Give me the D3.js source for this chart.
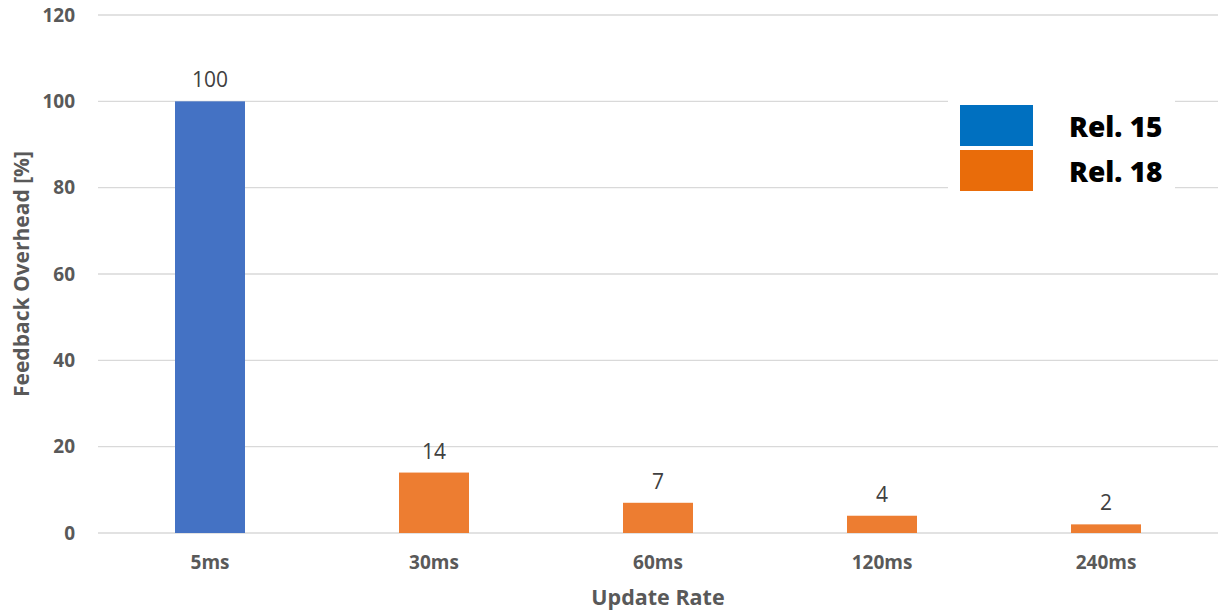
<!DOCTYPE html>
<html>
<head>
<meta charset="utf-8">
<script src="https://cdn.jsdelivr.net/npm/d3@7"></script>
<style>
  html, body { margin: 0; padding: 0; background: #fff; }
  svg { display: block; }
</style>
</head>
<body>
<svg id="chart" width="1225" height="613"></svg>
<script>
// Feedback overhead per update rate
const categories = ["5ms", "30ms", "60ms", "120ms", "240ms"];
const values = [100, 14, 7, 4, 2];
const releases = ["Rel. 15", "Rel. 18", "Rel. 18", "Rel. 18", "Rel. 18"];
const yTicks = [0, 20, 40, 60, 80, 100, 120];
const legendItems = ["Rel. 15", "Rel. 18"];

const barColor = { "Rel. 15": "#4472C4", "Rel. 18": "#ED7D31" };
const swatchColor = { "Rel. 15": "#0070C0", "Rel. 18": "#E96C0A" };

const svg = d3.select("#chart");
const margin = { left: 98, right: 7, top: 15, bottom: 80 };
const W = 1225, H = 613;

const x = d3.scaleBand()
  .domain(categories)
  .range([margin.left, W - margin.right])
  .paddingInner(0.6875)
  .paddingOuter(0.34375);

const y = d3.scaleLinear()
  .domain([0, 120])
  .range([H - margin.bottom, margin.top]);

const font = "'Open Sans', 'Noto Sans', sans-serif";

// horizontal gridlines
svg.append("g")
  .selectAll("line")
  .data(yTicks)
  .join("line")
  .attr("x1", margin.left)
  .attr("x2", W - margin.right)
  .attr("y1", d => y(d))
  .attr("y2", d => y(d))
  .attr("stroke", "#d9d9d9")
  .attr("stroke-width", 1.3);

// y axis tick labels
const yAxis = svg.append("g")
  .attr("transform", `translate(${margin.left - 23},0)`)
  .call(d3.axisLeft(y).tickValues(yTicks).tickSize(0).tickPadding(0));
yAxis.select(".domain").remove();
yAxis.selectAll("text")
  .attr("font-family", font)
  .attr("font-size", 19)
  .attr("font-weight", "bold")
  .attr("fill", "#595959");

// x axis tick labels
const xAxis = svg.append("g")
  .attr("transform", `translate(0,${y(0)})`)
  .call(d3.axisBottom(x).tickSize(0).tickPadding(23));
xAxis.select(".domain").remove();
xAxis.selectAll("text")
  .attr("font-family", font)
  .attr("font-size", 19)
  .attr("font-weight", "bold")
  .attr("fill", "#595959");

// bars
svg.append("g")
  .selectAll("rect")
  .data(categories)
  .join("rect")
  .attr("x", d => x(d))
  .attr("width", x.bandwidth())
  .attr("y", (d, i) => y(values[i]))
  .attr("height", (d, i) => y(0) - y(values[i]))
  .attr("fill", (d, i) => barColor[releases[i]]);

// value labels
svg.append("g")
  .selectAll("text")
  .data(categories)
  .join("text")
  .attr("x", d => x(d) + x.bandwidth() / 2)
  .attr("y", (d, i) => y(values[i]) - 14)
  .attr("text-anchor", "middle")
  .attr("font-family", font)
  .attr("font-size", 21)
  .attr("fill", "#404040")
  .text((d, i) => values[i]);

// axis titles
svg.append("text")
  .attr("x", (margin.left + W - margin.right) / 2)
  .attr("y", 605)
  .attr("text-anchor", "middle")
  .attr("font-family", font)
  .attr("font-size", 21.5)
  .attr("font-weight", "bold")
  .attr("fill", "#595959")
  .text("Update Rate");

svg.append("text")
  .attr("transform", `translate(29,${y(60)}) rotate(-90)`)
  .attr("text-anchor", "middle")
  .attr("font-family", font)
  .attr("font-size", 21)
  .attr("font-weight", "bold")
  .attr("fill", "#595959")
  .text("Feedback Overhead [%]");

// legend
const legend = svg.append("g");
legend.append("rect")
  .attr("x", 948).attr("y", 96)
  .attr("width", 227).attr("height", 100)
  .attr("fill", "#fff");
const item = legend.selectAll("g.item")
  .data(legendItems)
  .join("g")
  .attr("class", "item")
  .attr("transform", (d, i) => `translate(960,${105 + i * 45})`);
item.append("rect")
  .attr("width", 73).attr("height", 41)
  .attr("fill", d => swatchColor[d]);
item.append("text")
  .attr("x", 109).attr("y", 32)
  .attr("font-family", font)
  .attr("font-size", 28)
  .attr("font-weight", 800)
  .attr("fill", "#000")
  .text(d => d);
</script>
</body>
</html>
